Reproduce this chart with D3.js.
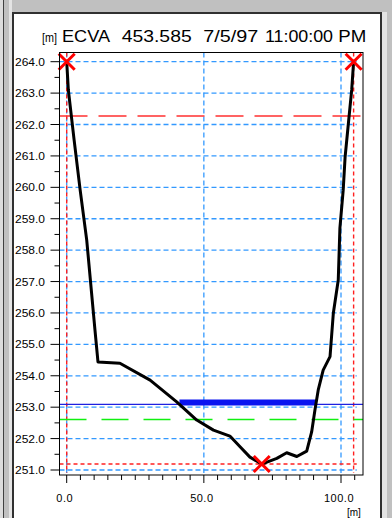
<!DOCTYPE html>
<html lang='en'>
<head>
<meta charset='utf-8'>
<script src='https://cdnjs.cloudflare.com/ajax/libs/d3/7.8.5/d3.min.js'></script>
<title>ECVA 453.585</title>
<style>
body {
   margin:0;
   overflow:hidden;
   background:#c0c0c0;
}
text {
   font-family:'Liberation Sans', Arial, sans-serif;
   fill:black;
}
</style>
</head>
<body>
<script>
// cross section profile (station [m], elevation [m])
var station = [0.0, 0.6, 2.7, 4.9, 7.3, 10.3, 11.4, 19.4, 30.4, 40.1, 47.4, 53.5, 59.5, 63.2, 66.8, 71.1,
               76.6, 80.2, 83.9, 87.5, 89.3, 90.5, 91.7, 93.5, 96.0, 97.2, 99.0, 99.6, 100.8, 101.5, 102.7, 103.9, 104.6];
var elevation = [264.00, 263.10, 261.51, 259.92, 258.32, 255.46, 254.44, 254.40, 253.86, 253.17, 252.59, 252.27, 252.08, 251.74, 251.41, 251.19,
                 251.37, 251.55, 251.43, 251.60, 252.21, 252.91, 253.55, 254.18, 254.61, 255.99, 257.05, 258.70, 259.91, 260.97, 262.04, 263.10, 264.00];
var markerStation = [0.0, 104.6, 71.1];
var markerElev = [264.0, 264.0, 251.19];
var waterLevel = 253.09;
var greenLevel = 252.61;
var redLevel = 262.27;
var minLevel = 251.19;
var bankStation = [0.0, 104.6];
var yTickValues = [251, 252, 253, 254, 255, 256, 257, 258, 259, 260, 261, 262, 263, 264];
var xTickValues = [0, 50, 100];
var titleWords = ['ECVA', '453.585', '7/5/97', '11:00:00', 'PM'];
var titleX = [62, 121.7, 203.3, 265, 338.3];
var titleW = [48, 70, 55, 68, 28];

var W = 392, H = 518;
var box = {left:59.5, top:52.5, right:363, bottom:475};
var x = d3.scaleLinear().domain([0, 100]).range([66.7, 341]);
var y = d3.scaleLinear().domain([251, 264]).range([470, 61.7]);

var svg = d3.select('body').append('svg').attr('width', W).attr('height', H);

// window chrome
svg.append('rect').attr('x', 0).attr('y', 0).attr('width', W).attr('height', H).attr('fill', '#c0c0c0');
svg.append('rect').attr('x', 0).attr('y', 0).attr('width', 3).attr('height', H).attr('fill', '#dcdcdc');
svg.append('rect').attr('x', 3).attr('y', 0).attr('width', 1).attr('height', H).attr('fill', '#404040');
svg.append('rect').attr('x', 9).attr('y', 0).attr('width', 3).attr('height', H).attr('fill', '#e4e4e4');
svg.append('rect').attr('x', 12).attr('y', 12).attr('width', 372).attr('height', 2).attr('fill', '#303030');
svg.append('rect').attr('x', 12).attr('y', 12).attr('width', 2).attr('height', H).attr('fill', '#303030');
svg.append('rect').attr('x', 380).attr('y', 12).attr('width', 2).attr('height', H).attr('fill', '#303030');
svg.append('rect').attr('x', 382).attr('y', 12).attr('width', 5).attr('height', H).attr('fill', '#e4e4e4');
svg.append('rect').attr('x', 14).attr('y', 14).attr('width', 366).attr('height', H).attr('fill', 'white');

// blue grid
var grid = svg.append('g').attr('stroke', '#3399ff').attr('stroke-width', 1.3).attr('stroke-dasharray', '5,3');
grid.selectAll('.hg').data(yTickValues).enter().append('line')
   .attr('x1', box.left).attr('x2', x(105) + 2)
   .attr('y1', function(d){return y(d);}).attr('y2', function(d){return y(d);});
grid.selectAll('.vg').data(xTickValues).enter().append('line')
   .attr('x1', function(d){return x(d);}).attr('x2', function(d){return x(d);})
   .attr('y1', box.top).attr('y2', y(251) + 3);

// red bounding lines
var red = svg.append('g').attr('stroke', '#ff2020').attr('stroke-width', 1.4).attr('stroke-dasharray', '4,3');
red.selectAll('line').data(bankStation).enter().append('line')
   .attr('x1', function(d){return x(d);}).attr('x2', function(d){return x(d);})
   .attr('y1', box.top).attr('y2', box.bottom - 2);
red.append('line').attr('x1', box.left).attr('x2', x(105) + 2).attr('y1', y(minLevel)).attr('y2', y(minLevel));

// long dashed levels
svg.append('line').attr('x1', box.left).attr('x2', box.right).attr('y1', y(redLevel)).attr('y2', y(redLevel))
   .attr('stroke', '#ff3030').attr('stroke-width', 1.4).attr('stroke-dasharray', '28,11');
svg.append('line').attr('x1', box.left).attr('x2', box.right).attr('y1', y(greenLevel)).attr('y2', y(greenLevel))
   .attr('stroke', '#10f010').attr('stroke-width', 1.4).attr('stroke-dasharray', '27,15');

// water surface
svg.append('line').attr('x1', box.left).attr('x2', box.right).attr('y1', y(waterLevel)).attr('y2', y(waterLevel))
   .attr('stroke', '#2020e0').attr('stroke-width', 1.2);
function crossings(level) {
   var out = [];
   for (var i = 0; i < station.length - 1; i++) {
      var a = elevation[i] - level, b = elevation[i + 1] - level;
      if (a * b < 0) out.push(station[i] + (station[i + 1] - station[i]) * a / (a - b));
   }
   return out;
}
var wet = crossings(waterLevel);
svg.append('line').attr('x1', x(wet[0])).attr('x2', x(wet[wet.length - 1]))
   .attr('y1', y(waterLevel) - 1.8).attr('y2', y(waterLevel) - 1.8)
   .attr('stroke', '#0a14f0').attr('stroke-width', 6);

// profile
var line = d3.line().x(function(d){return x(d[0]);}).y(function(d){return y(d[1]);});
svg.append('path').datum(d3.zip(station, elevation)).attr('d', line)
   .attr('fill', 'none').attr('stroke', 'black').attr('stroke-width', 3).attr('stroke-linejoin', 'round');

// red markers
svg.append('g').selectAll('path').data(d3.zip(markerStation, markerElev)).enter().append('path')
   .attr('d', function(d){var cx = x(d[0]), cy = y(d[1]), r = 8;
      return 'M' + (cx - r) + ',' + (cy - r) + 'L' + (cx + r) + ',' + (cy + r) + 'M' + (cx + r) + ',' + (cy - r) + 'L' + (cx - r) + ',' + (cy + r);})
   .attr('stroke', '#ff0000').attr('stroke-width', 3).attr('fill', 'none');

// frame
svg.append('rect').attr('x', box.left).attr('y', box.top).attr('width', box.right - box.left).attr('height', box.bottom - box.top)
   .attr('fill', 'none').attr('stroke', 'black').attr('stroke-width', 1);

// y axis
var yMinor = d3.range(251, 264.01, 0.5);
svg.append('g').selectAll('line').data(yMinor).enter().append('line')
   .attr('x1', function(d){return d % 1 === 0 ? box.left - 9 : box.left - 5;}).attr('x2', box.left)
   .attr('y1', function(d){return y(d);}).attr('y2', function(d){return y(d);})
   .attr('stroke', 'black').attr('stroke-width', 1);
svg.append('g').selectAll('text').data(yTickValues).enter().append('text')
   .attr('x', 15).attr('y', function(d){return y(d) + 4;})
   .attr('textLength', 30).attr('lengthAdjust', 'spacingAndGlyphs')
   .style('font-size', '11px')
   .text(function(d){return d3.format('.1f')(d);});

// x axis
var xMinor = d3.range(0, 105.1, 5);
svg.append('g').selectAll('line').data(xMinor).enter().append('line')
   .attr('x1', function(d){return x(d);}).attr('x2', function(d){return x(d);})
   .attr('y1', box.bottom).attr('y2', function(d){return d % 50 === 0 ? box.bottom + 8 : box.bottom + 5;})
   .attr('stroke', 'black').attr('stroke-width', 1);
svg.append('g').selectAll('text').data(xTickValues).enter().append('text')
   .attr('x', function(d){return x(d) - 2;}).attr('y', 502)
   .attr('text-anchor', 'middle')
   .style('font-size', '11px').style('letter-spacing', '0.5px')
   .text(function(d){return d3.format('.1f')(d);});
svg.append('text').attr('x', 347).attr('y', 516).style('font-size', '10px').text('[m]');

// title
svg.append('text').attr('x', 42).attr('y', 42).attr('textLength', 15).attr('lengthAdjust', 'spacingAndGlyphs')
   .style('font-size', '13px').text('[m]');
svg.append('g').selectAll('text').data(titleWords).enter().append('text')
   .attr('x', function(d, i){return titleX[i];}).attr('y', 42)
   .attr('textLength', function(d, i){return titleW[i];}).attr('lengthAdjust', 'spacingAndGlyphs')
   .style('font-size', '17px')
   .text(function(d){return d;});
</script>
</body>
</html>
